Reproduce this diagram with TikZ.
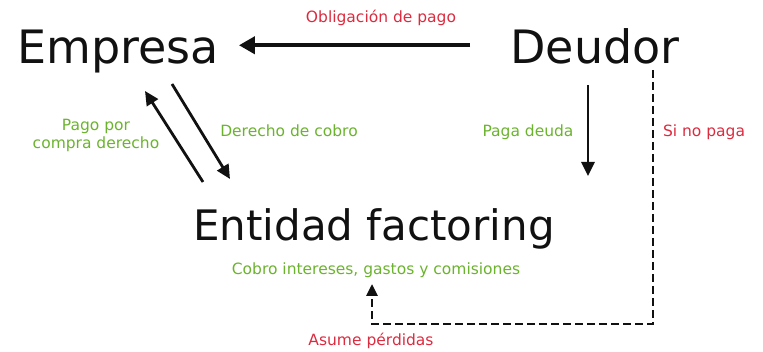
\documentclass[tikz,border=0pt]{standalone}
\usepackage{fontspec}
\setmainfont{DejaVu Sans}
\usetikzlibrary{arrows.meta}
\definecolor{factred}{HTML}{DC2B3F}
\definecolor{factgreen}{HTML}{6BB32E}
\definecolor{factblack}{HTML}{111111}

\begin{document}
\begin{tikzpicture}[x=1pt,y=-1pt,
  big/.style={font=\fontsize{46}{50}\selectfont,text=factblack,inner sep=0pt,anchor=base},
  lbl/.style={font=\fontsize{15.5}{18}\selectfont,inner sep=0pt,anchor=base},
  flow/.style={line width=2.8pt,factblack,-{Triangle[length=14pt,width=13pt]}}]
\useasboundingbox (0,0) rectangle (763,352); %Keeps the picture at the size of the reference
\node[big] (empresa) at (118,64) {Empresa}; %Parties
\node[big] (deudor) at (595,64) {Deudor};
\node[big,font=\fontsize{42}{48}\selectfont] (entidad) at (374,241) {Entidad factoring};
\node[lbl,text=factred] (obligacion) at (381,23) {Obligación de pago}; %Labels
\node[lbl,text=factgreen,align=center,anchor=center] (pago) at (96,135) {Pago por\\compra derecho};
\node[lbl,text=factgreen] (derecho) at (289,137) {Derecho de cobro};
\node[lbl,text=factgreen] (paga) at (528,137) {Paga deuda};
\node[lbl,text=factred] (sinopaga) at (704,137) {Si no paga};
\node[lbl,text=factgreen] (cobro) at (376,275) {Cobro intereses, gastos y comisiones};
\node[lbl,text=factred] (asume) at (371,346) {Asume pérdidas};
\coordinate (pagofrom) at (203,182); %Ends of the loose arrows
\coordinate (pagoto) at (145,91);
\coordinate (derechofrom) at (172,84);
\coordinate (derechoto) at (230,179);
\coordinate (pagadeudafrom) at (588,85);
\coordinate (pagadeudato) at (588,176);
\coordinate (sinopagafrom) at (653,70);
\coordinate (sinopagacorner) at (653,324);
\coordinate (asumecorner) at (372,324);
\coordinate (asumeto) at (372,284);
\draw[flow,line width=4pt,-{Triangle[length=16pt,width=17pt]}] ([xshift=-40pt,yshift=16pt]deudor.mid west) -- ([xshift=20pt,yshift=16pt]empresa.mid east); %Obligation arrow
\draw[flow] (pagofrom) -- (pagoto);
\draw[flow] (derechofrom) -- (derechoto);
\draw[flow] (pagadeudafrom) -- (pagadeudato);
\draw[flow,dash pattern=on 8pt off 4pt,-{Triangle[length=12pt,width=11pt]}] (sinopagafrom) -- (sinopagacorner) -- (asumecorner) -- (asumeto); %Unpaid debt goes to the factor
\end{tikzpicture}
\end{document}
